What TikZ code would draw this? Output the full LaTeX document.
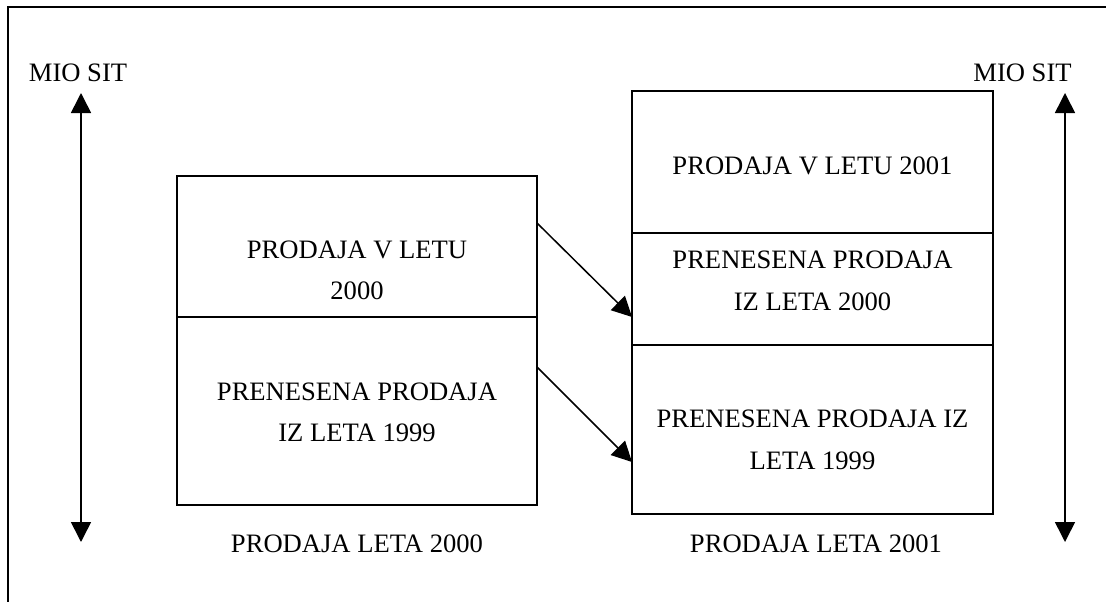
\documentclass[tikz,border=0pt]{standalone}
\usepackage{fontspec}
\setmainfont{Liberation Serif}
\usetikzlibrary{arrows.meta}

\tikzset{
  cell/.style={draw, line width=1.6pt, inner sep=0pt, outer sep=0pt},
  txt/.style={inner sep=0pt, align=center, font=\fontsize{26.6}{41.5}\selectfont},
  flow/.style={line width=1.5pt, -{Triangle[length=20pt,width=20pt]}},
  axisarrow/.style={line width=1.6pt, {Triangle[length=20pt,width=20pt]}-{Triangle[length=20pt,width=20pt]}},
  frame/.style={line width=1.8pt}
}

\begin{document}
\begin{tikzpicture}[x=1pt,y=-1pt]
  \useasboundingbox (0,0) rectangle (1106,602);

  % page frame (left and top edges)
  \draw[frame] (8,602) -- (8,7) -- (1106,7);

  % sales of 2000
  \node[cell, minimum width=360pt, minimum height=141pt] (lt) at (357,246.5) {};
  \node[cell, minimum width=360pt, minimum height=188pt] (lb) at (357,411) {};
  \node[txt] (ltt) at (357,270.5) {PRODAJA V LETU\\2000};
  \node[txt] (lbt) at (357,412.5) {PRENESENA PRODAJA\\IZ LETA 1999};
  \node[txt] (lcap) at (357,544) {PRODAJA LETA 2000};

  % sales of 2001
  \node[cell, minimum width=361pt, minimum height=142pt] (rt) at (812.5,162) {};
  \node[cell, minimum width=361pt, minimum height=112pt] (rm) at (812.5,289) {};
  \node[cell, minimum width=361pt, minimum height=169pt] (rb) at (812.5,429.5) {};
  \node[txt] (rtt) at (812.5,166) {PRODAJA V LETU 2001};
  \node[txt] (rmt) at (812.5,281) {PRENESENA PRODAJA\\IZ LETA 2000};
  \node[txt] (rbt) at (812.5,440) {PRENESENA PRODAJA IZ\\LETA 1999};
  \node[txt] (rcap) at (816,544) {PRODAJA LETA 2001};

  % carried-over sales
  \draw[flow] ([yshift=23.5pt]lt.east) -- ([yshift=-28pt]rm.west);
  \draw[flow] ([yshift=44pt]lb.east) -- ([yshift=-32.5pt]rb.west);

  % value axes
  \node[txt] (lunit) at (78,73) {MIO SIT};
  \node[txt] (runit) at (1022.5,73) {MIO SIT};
  \coordinate (lup) at (81,93);
  \coordinate (ldown) at (81,542);
  \coordinate (rup) at (1065,93);
  \coordinate (rdown) at (1065,542);
  \draw[axisarrow] (lup) -- (ldown);
  \draw[axisarrow] (rup) -- (rdown);
\end{tikzpicture}
\end{document}
